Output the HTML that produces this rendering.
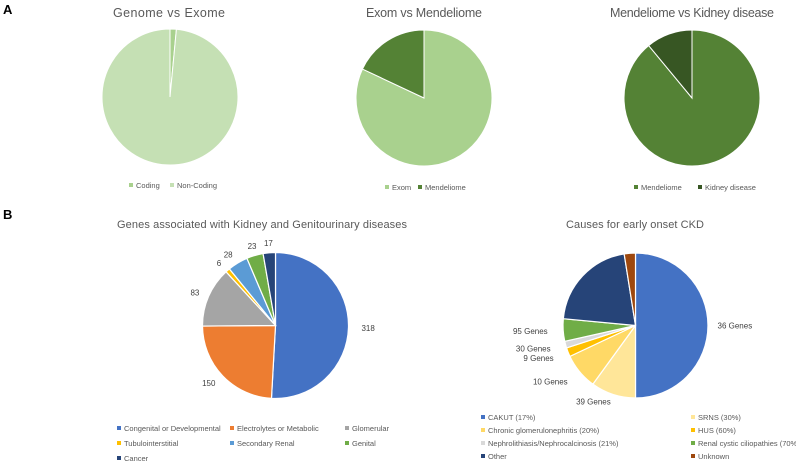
<!DOCTYPE html>
<html><head><meta charset="utf-8"><style>
body{margin:0;background:#fff;}
svg{display:block;font-family:"Liberation Sans",sans-serif;}
</style></head><body>
<svg id="c" width="796" height="463" viewBox="0 0 796 463">
<text x="3" y="14" font-size="13" font-weight="bold" fill="#000">A</text>
<text x="3" y="219" font-size="13" font-weight="bold" fill="#000">B</text>
<text x="169" y="17" font-size="12.5" fill="#595959" text-anchor="middle" textLength="112">Genome vs Exome</text>
<text x="424" y="17" font-size="12.5" fill="#595959" text-anchor="middle" textLength="116">Exom vs Mendeliome</text>
<text x="692" y="17" font-size="12.5" fill="#595959" text-anchor="middle" textLength="164">Mendeliome vs Kidney disease</text>
<text x="262" y="228" font-size="11" fill="#595959" text-anchor="middle" textLength="290">Genes associated with Kidney and Genitourinary diseases</text>
<text x="635" y="228" font-size="11" fill="#595959" text-anchor="middle" textLength="138">Causes for early onset CKD</text>
</svg>
<script>
const pie1Labels=["Coding","Non-Coding"];
const pie1Values=[1.5,98.5];
const pie2Labels=["Exom","Mendeliome"];
const pie2Values=[82,18];
const pie3Labels=["Mendeliome","Kidney disease"];
const pie3Values=[89,11];
const pie4Labels=["Congenital or Developmental","Electrolytes or Metabolic","Glomerular","Tubulointerstitial","Secondary Renal","Genital","Cancer"];
const pie4Values=[318,150,83,6,28,23,17];
const pie5Labels=["CAKUT (17%)","SRNS (30%)","Chronic glomerulonephritis (20%)","HUS (60%)","Nephrolithiasis/Nephrocalcinosis (21%)","Renal cystic ciliopathies (70%)","Other","Unknown"];
const pie5Values=[50,10,8,2,1.5,5,21,2.5];
const pie5DataLabels=["36 Genes","39 Genes","10 Genes","9 Genes","30 Genes","95 Genes","",""];

const NS="http://www.w3.org/2000/svg";
const svg=document.getElementById('c');
function mk(t,a){const e=document.createElementNS(NS,t);for(const k in a)e.setAttribute(k,a[k]);svg.appendChild(e);return e;}
function pie(cx,cy,r,vals,cols,name,sw){
  const tot=vals.reduce((a,b)=>a+b,0);let a0=-Math.PI/2;const mids=[];
  vals.forEach((v,i)=>{
    const a1=a0+v/tot*2*Math.PI;
    const x0=cx+r*Math.cos(a0),y0=cy+r*Math.sin(a0),x1=cx+r*Math.cos(a1),y1=cy+r*Math.sin(a1);
    const lg=(a1-a0)>Math.PI?1:0;
    const p=mk('path',{d:`M${cx},${cy}L${x0},${y0}A${r},${r} 0 ${lg} 1 ${x1},${y1}Z`,fill:cols[i],stroke:'#fff','stroke-width':sw});
    
    
    mids.push((a0+a1)/2);a0=a1;
  });
  return mids;
}
function legend(items,cols,xs,ys,name,fs){
  items.forEach((t,i)=>{
    const x=xs[i],y=ys[i];
    const s=mk('rect',{x:x,y:y-5,width:4,height:4,fill:cols[i]});
    
    
    const tx=mk('text',{x:x+7,y:y,'font-size':fs,fill:'#595959'});tx.textContent=t;
    
    
  });
}
pie(170,97,68,pie1Values,['#a9d18e','#c5e0b4'],'genome-pie',1);
legend(pie1Labels,['#a9d18e','#c5e0b4'],[129,170],[188,188],'genome',7.5);
pie(424,98,68,pie2Values,['#a9d18e','#548235'],'exom-pie',1);
legend(pie2Labels,['#a9d18e','#548235'],[385,418],[190,190],'exom',7.5);
pie(692,98,68,pie3Values,['#548235','#375623'],'mendeliome-pie',1);
legend(pie3Labels,['#548235','#375623'],[634,698],[190,190],'mendeliome',7.5);

const c4=['#4472c4','#ed7d31','#a5a5a5','#ffc000','#5b9bd5','#70ad47','#264478'];
const m4=pie(275.5,325.5,73,pie4Values,c4,'kidney-pie',1.2);
pie4Values.forEach((v,i)=>{
  const a=m4[i];const rr=i===0?86:83;
  const x=275.5+rr*Math.cos(a),y=325.5+rr*Math.sin(a);
  const t=mk('text',{x:x,y:y+3,'font-size':8,fill:'#404040','text-anchor':Math.cos(a)>0.3?'start':(Math.cos(a)<-0.3?'end':'middle')});
  t.textContent=v;
  
  
});
legend(pie4Labels,c4,[117,230,345,117,230,345,117],[431,431,431,446,446,446,461],'kidney',7.5);

const c5=['#4472c4','#ffe699','#ffd966','#ffc000','#d9d9d9','#70ad47','#264478','#9e480e'];
const m5=pie(635.5,325.5,72.5,pie5Values,c5,'ckd-pie',1.2);
pie5DataLabels.forEach((t,i)=>{
  if(!t)return;const a=m5[i];const rr=i===0?82:(i===1?80:88);
  const x=635.5+rr*Math.cos(a),y=325.5+rr*Math.sin(a);
  const e=mk('text',{x:x,y:y+3,'font-size':8,fill:'#404040','text-anchor':Math.cos(a)>0.3?'start':(Math.cos(a)<-0.3?'end':'middle')});
  e.textContent=t;
  
  
});
legend(pie5Labels,c5,[481,691,481,691,481,691,481,691],[420,420,433,433,446,446,459,459],'ckd',7.5);
</script>
</body></html>
